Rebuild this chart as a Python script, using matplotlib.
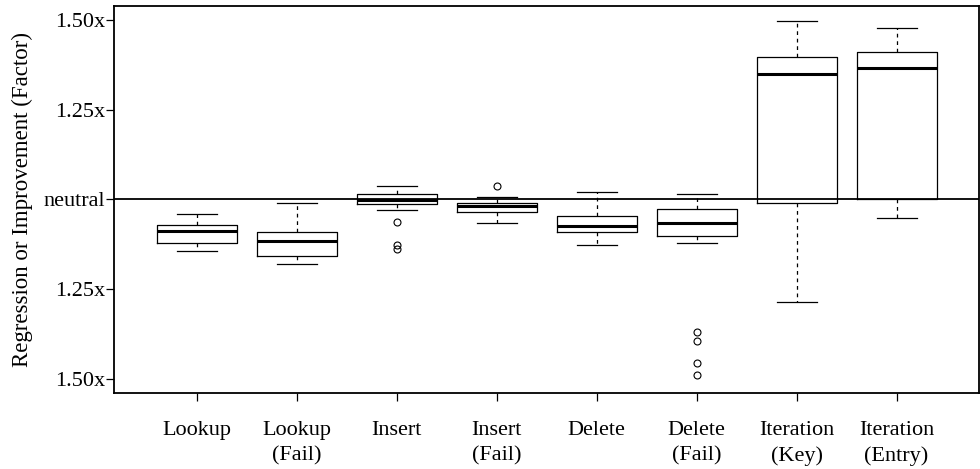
import matplotlib
matplotlib.use("Agg")
import matplotlib.pyplot as plt

# ---- data (signed factor change: + improvement, - regression) ----
categories = ["Lookup", "Lookup\n(Fail)", "Insert", "Insert\n(Fail)", "Delete",
              "Delete\n(Fail)", "Iteration\n(Key)", "Iteration\n(Entry)"]
whisker_low = [-0.1436, -0.1797, -0.0297, -0.0658, -0.1269, -0.1214, -0.2853, -0.0528]
q1_values   = [-0.1214, -0.1592, -0.0119, -0.0342, -0.0917, -0.1036, -0.0111, 0.0019]
medians     = [-0.0881, -0.1167, -0.0014, -0.0194, -0.0731, -0.0658, 0.3508, 0.3658]
q3_values   = [-0.0703, -0.0917, 0.0158, -0.0092, -0.0464, -0.0258, 0.3964, 0.4119]
whisker_high = [-0.0408, -0.0111, 0.0361, 0.0064, 0.0203, 0.0147, 0.4980, 0.4769]
outliers = [[], [], [-0.0631, -0.1278, -0.1389], [0.0361], [],
            [-0.3703, -0.3953, -0.4556, -0.4889], [], []]
tick_values = [-0.5, -0.25, 0.0, 0.25, 0.5]
tick_labels = ["1.50x", "1.25x", "neutral", "1.25x", "1.50x"]
y_label = "Regression or Improvement (Factor)"

plt.rcParams['font.family'] = ['Liberation Serif', 'DejaVu Serif']
FS = 16

fig = plt.figure(figsize=(9.8, 4.69), dpi=100)
ax = fig.add_axes([114 / 980, 1 - 393 / 469, (978.5 - 114) / 980, (393 - 6) / 469])

stats = []
for i in range(len(categories)):
    stats.append(dict(whislo=whisker_low[i], q1=q1_values[i], med=medians[i],
                      q3=q3_values[i], whishi=whisker_high[i], fliers=outliers[i]))

positions = list(range(1, len(categories) + 1))
ax.bxp(stats, positions=positions, widths=0.8, showfliers=True,
       boxprops=dict(color='black', linewidth=0.9),
       medianprops=dict(color='black', linewidth=2.2, solid_capstyle='butt'),
       whiskerprops=dict(color='black', linewidth=0.9, linestyle=(0, (3, 3))),
       capprops=dict(color='black', linewidth=0.9),
       flierprops=dict(marker='o', markerfacecolor='none', markeredgecolor='black',
                       markersize=5, markeredgewidth=0.8, linestyle='none'))

ax.axhline(0, color='black', linewidth=1.3, zorder=3)

ax.set_xlim(0.17, 8.82)
ax.set_ylim(-0.54, 0.539)
ax.set_xticks(positions)
ax.set_xticklabels(categories, fontsize=FS, linespacing=1.45)
ax.set_yticks(tick_values)
ax.set_yticklabels(tick_labels, fontsize=FS)
ax.tick_params(axis='both', direction='out', length=6, width=0.9, color='black')
ax.tick_params(axis='y', pad=0.5)
ax.tick_params(axis='x', pad=14)
for s in ax.spines.values():
    s.set_linewidth(1.3)
    s.set_color('black')

fig.text(22 / 980, 1 - 199.5 / 469, y_label, rotation=90, fontsize=FS + 0.5,
         ha='center', va='center')

fig.savefig("out.png", dpi=100)
